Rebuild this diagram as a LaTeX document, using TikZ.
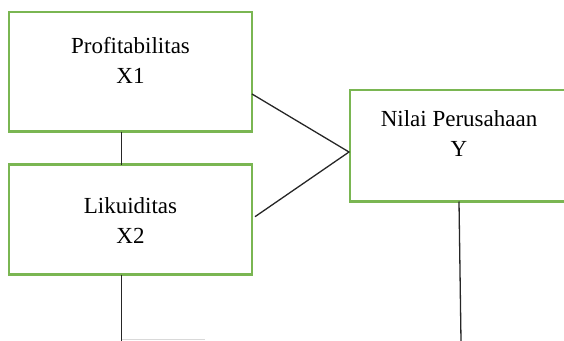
\documentclass[tikz,border=0pt]{standalone}
\usepackage{fontspec}
\setmainfont{Liberation Serif}
\begin{document}
\begin{tikzpicture}[x=1pt,y=1pt,
  box/.style={draw=boxgreen,line width=2.2pt,inner sep=0pt,minimum width=#1},
  lbl/.style={anchor=base,inner sep=0pt,font=\fontsize{23}{30}\selectfont},
  conn/.style={draw=black!85,line width=1.3pt}]
\definecolor{boxgreen}{RGB}{122,182,82}
\useasboundingbox (0,0) rectangle (564,-340);
\clip (0,0) rectangle (564,-340);
% boxes
\node[box=243pt,minimum height=119.5pt] (b1) at (130.5,-71.75) {};
\node[box=243pt,minimum height=110pt] (b2) at (130.5,-219.5) {};
\node[box=220pt,minimum height=111.5pt] (b3) at (460,-145.75) {};
% labels
\node[lbl] (t1) at (130.5,-53.3) {\begin{tabular}[t]{@{}c@{}}Profitabilitas\\X1\end{tabular}};
\node[lbl] (t2) at (130.5,-213.3) {\begin{tabular}[t]{@{}c@{}}Likuiditas\\X2\end{tabular}};
\node[lbl] (t3) at (459,-126.7) {\begin{tabular}[t]{@{}c@{}}Nilai Perusahaan\\Y\end{tabular}};
% connector points
\coordinate (j) at (349,-152);
\coordinate (a1) at (252,-94);
\coordinate (a2) at (255,-216.7);
\coordinate (v1) at (121.7,-131.5);
\coordinate (v2) at (121.7,-164.5);
\coordinate (d1) at (121.7,-274.5);
\coordinate (d2) at (121.7,-341);
\coordinate (e1) at (459,-201.5);
\coordinate (e2) at (461,-341);
\coordinate (f1) at (121.7,-339.6);
\coordinate (f2) at (205,-339.6);
% connectors
\draw[conn] (a1) -- (j) -- (a2);
\draw[conn] (v1) -- (v2);
\draw[conn] (d1) -- (d2);
\draw[conn] (e1) -- (e2);
\draw[black!15,line width=1pt] (f1) -- (f2);
\end{tikzpicture}
\end{document}
